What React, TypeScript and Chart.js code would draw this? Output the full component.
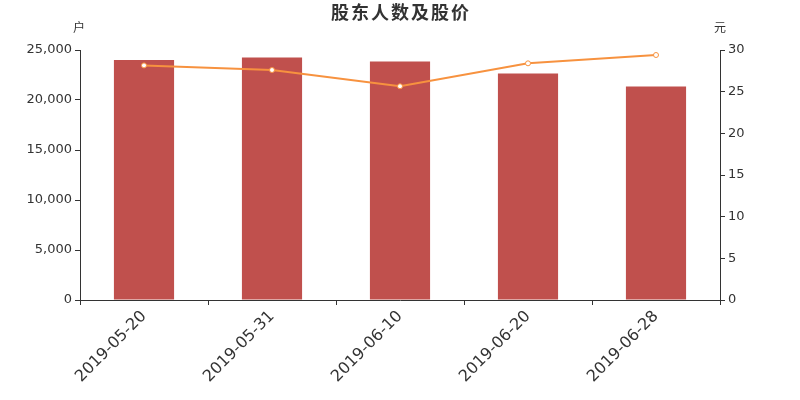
import React, { useEffect, useRef } from "react";
import { Chart, registerables } from "chart.js";

Chart.register(...registerables);

const categories = ["2019-05-20", "2019-05-31", "2019-06-10", "2019-06-20", "2019-06-28"];
const holders = [24000, 24250, 23850, 22650, 21350];
const prices = [28.15, 27.6, 25.65, 28.4, 29.4];
const leftTicks = [0, 5000, 10000, 15000, 20000, 25000];
const rightTicks = [0, 5, 10, 15, 20, 25, 30];

const FONT = "'DejaVu Sans', 'Noto Sans CJK SC', sans-serif";

const extrasPlugin = {
  id: "extras",
  afterDraw(chart: any) {
    const { ctx, chartArea } = chart;
    ctx.save();
    ctx.fillStyle = "#333";
    ctx.font = `bold 18px ${FONT}`;
    ctx.textAlign = "center";
    ctx.textBaseline = "middle";
    try { (ctx as any).letterSpacing = "2px"; } catch (e) {}
    ctx.fillText("股东人数及股价", (chartArea.left + chartArea.right) / 2 + 1, 14);
    try { (ctx as any).letterSpacing = "0px"; } catch (e) {}
    ctx.font = `12px ${FONT}`;
    ctx.fillText("户", chartArea.left - 1, 29);
    ctx.fillText("元", chartArea.right, 29);
    ctx.restore();
  },
};

export default function App() {
  const ref = useRef<HTMLCanvasElement>(null);
  useEffect(() => {
    if (!ref.current) return;
    const chart = new Chart(ref.current, {
      type: "bar",
      data: {
        labels: categories,
        datasets: [
          {
            type: "line",
            label: "股价",
            data: prices,
            yAxisID: "y1",
            borderColor: "#f7923f",
            backgroundColor: "#ffffff",
            borderWidth: 2,
            pointRadius: 2.5,
            pointBorderWidth: 1,
            pointBorderColor: "#f7923f",
            pointBackgroundColor: "#ffffff",
            tension: 0,
            order: 0,
          },
          {
            type: "bar",
            label: "股东人数",
            data: holders,
            yAxisID: "y",
            backgroundColor: "#c0504d",
            categoryPercentage: 1,
            barPercentage: 0.47,
            order: 1,
          },
        ],
      },
      options: {
        responsive: false,
        animation: false,
        layout: { padding: { top: 50, left: 0, right: 0, bottom: 0 } },
        plugins: { legend: { display: false }, title: { display: false }, tooltip: { enabled: false } },
        scales: {
          x: {
            offset: true,
            grid: { display: true, drawOnChartArea: false, offset: true, tickLength: 5, color: "#333" },
            border: { color: "#333" },
            ticks: {
              color: "#333",
              font: { family: FONT, size: 16 },
              maxRotation: 45,
              minRotation: 45,
              autoSkip: false,
              padding: 2,
            },
            afterFit(scale: any) {
              scale.height = 100;
            },
          },
          y: {
            position: "left",
            min: 0,
            max: 25000,
            afterBuildTicks(scale: any) {
              scale.ticks = leftTicks.map((v) => ({ value: v }));
            },
            grid: { display: true, drawOnChartArea: false, tickLength: 5, color: "#333" },
            border: { color: "#333" },
            ticks: {
              color: "#333",
              font: { family: FONT, size: 13 },
              padding: 3,
              callback: (v: any) => Number(v).toLocaleString("en-US"),
            },
            afterFit(scale: any) {
              scale.width = 80;
            },
          },
          y1: {
            position: "right",
            min: 0,
            max: 30,
            afterBuildTicks(scale: any) {
              scale.ticks = rightTicks.map((v) => ({ value: v }));
            },
            grid: { display: true, drawOnChartArea: false, tickLength: 5, color: "#333" },
            border: { color: "#333" },
            ticks: { color: "#333", font: { family: FONT, size: 13 }, padding: 3 },
            afterFit(scale: any) {
              scale.width = 80;
            },
          },
        },
      },
      plugins: [extrasPlugin],
    });
    return () => chart.destroy();
  }, []);
  return (
    <div style={{ position: "fixed", left: 0, top: 0, width: 800, height: 400, background: "#fff" }}>
      <canvas ref={ref} width={800} height={400} style={{ width: 800, height: 400 }} />
    </div>
  );
}
